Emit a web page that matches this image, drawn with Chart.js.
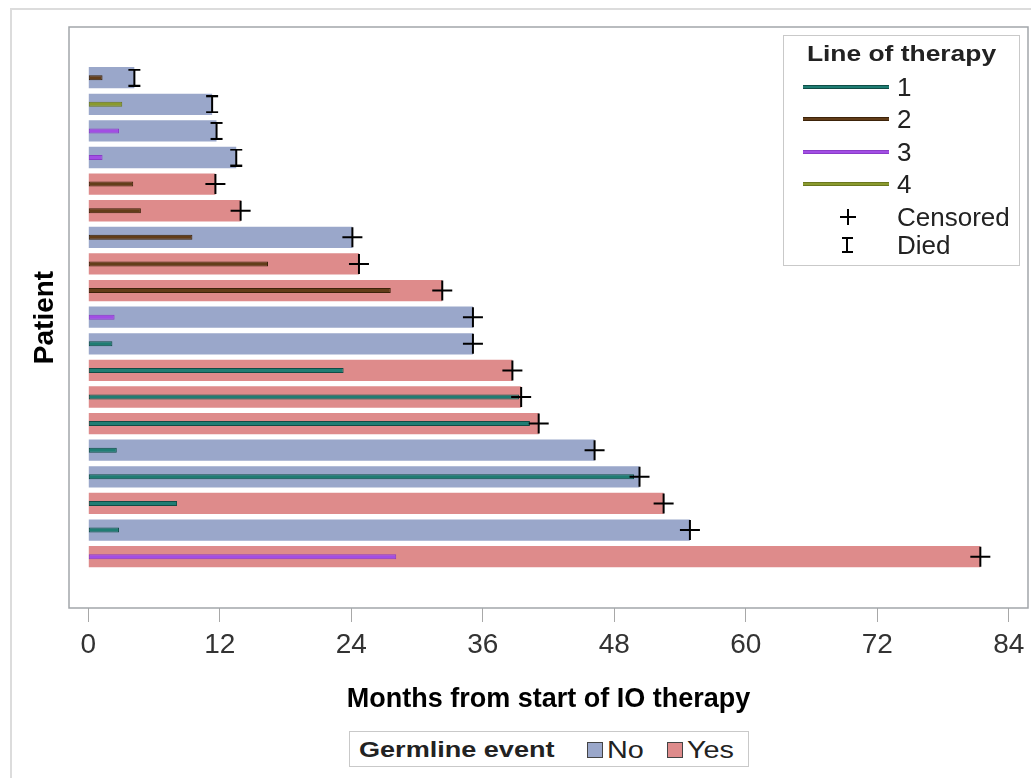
<!DOCTYPE html>
<html>
<head>
<meta charset="utf-8">
<script src="https://cdn.jsdelivr.net/npm/chart.js@4.4.1/dist/chart.umd.min.js"></script>
<style>
  html, body { margin: 0; padding: 0; background: #fff; }
  #wrap { position: relative; width: 1031px; height: 778px; overflow: hidden; font-family: 'Liberation Sans', Arial, sans-serif; color: #222; }
  #outer { position: absolute; left: 10px; top: 8px; width: 1100px; height: 900px; border: 2px solid #dcdcdc; box-sizing: border-box; }
  #chart { position: absolute; left: 0; top: 0; }
  .box { position: absolute; background: #fff; border: 1px solid #c9c9c9; box-sizing: border-box; }
  .abs { position: absolute; white-space: nowrap; }
  .ltitle { font-weight: bold; }
  .sample { position: absolute; height: 2px; }
  .swatch { position: absolute; width: 16px; height: 16px; border: 1px solid #444; box-sizing: border-box; }
  .bar { position: absolute; background: #000; }
</style>
</head>
<body>
<div id="wrap">
  <div id="outer"></div>
  <canvas id="chart" width="1031" height="778"></canvas>

  <div class="box" id="lotLegend" style="left:783px; top:35px; width:237px; height:231px;"></div>
  <div class="box" id="germLegend" style="left:349px; top:731px; width:400px; height:36px;"></div>
</div>
<script>
// one entry per patient, top row first
const germline = ['No','No','No','No','Yes','Yes','No','Yes','Yes','No',
                  'No','Yes','Yes','Yes','No','No','Yes','No','Yes'];
const months = [4.2, 11.3, 11.7, 13.5, 11.6, 13.9, 24.1, 24.7, 32.3, 35.1,
                35.1, 38.7, 39.5, 41.1, 46.2, 50.3, 52.5, 54.9, 81.4];
const outcome = ['Died','Died','Died','Died','Censored','Censored','Censored','Censored','Censored','Censored',
                 'Censored','Censored','Censored','Censored','Censored','Censored','Censored','Censored','Censored'];
const therapyLine = [2, 4, 3, 3, 2, 2, 2, 2, 2, 3, 1, 1, 1, 1, 1, 1, 1, 1, 3];
const therapyMonths = [1.3, 3.1, 2.8, 1.3, 4.1, 4.8, 9.5, 16.4, 27.6, 2.4,
                       2.2, 23.3, 39.3, 40.3, 2.6, 49.8, 8.1, 2.8, 28.1];
const xTicks = [0, 12, 24, 36, 48, 60, 72, 84];
const lineLabels = ['1', '2', '3', '4'];
const germLabels = ['No', 'Yes'];

const GERM_COLORS = { No: '#9aa7ca', Yes: '#de8b8b' };
const LINE_COLORS = { 1: '#1f7d73', 2: '#623d19', 3: '#a24ee4', 4: '#8a9a2e' };
const LINE_EDGES  = { 1: '#0f4d46', 2: '#3c230a', 3: '#8a3cc8', 4: '#6b781f' };

const rows = months.map((m, i) => i + 1);

// I-beam marker for deaths
function makeDiedMarker() {
  const c = document.createElement('canvas');
  c.width = 14; c.height = 18;
  const ctx = c.getContext('2d');
  ctx.strokeStyle = '#000';
  ctx.lineWidth = 2;
  ctx.beginPath();
  ctx.moveTo(1, 1); ctx.lineTo(13, 1);
  ctx.moveTo(7, 1); ctx.lineTo(7, 17);
  ctx.moveTo(1, 17); ctx.lineTo(13, 17);
  ctx.stroke();
  return c;
}

const framePlugin = {
  id: 'frame',
  afterDraw(chart) {
    const a = chart.chartArea;
    const ctx = chart.ctx;
    ctx.save();
    ctx.strokeStyle = '#a2a6aa';
    ctx.lineWidth = 1.5;
    ctx.strokeRect(a.left, a.top, a.right - a.left, a.bottom - a.top);
    ctx.restore();
  }
};

const pointsFor = kind => months
  .map((m, i) => ({ x: m, y: rows[i], kind: outcome[i] }))
  .filter(p => p.kind === kind);

new Chart(document.getElementById('chart'), {
  type: 'bar',
  data: {
    datasets: [
      {
        type: 'scatter',
        label: 'Died',
        data: pointsFor('Died'),
        pointStyle: makeDiedMarker(),
        pointRadius: 9,
        order: 0
      },
      {
        type: 'scatter',
        label: 'Censored',
        data: pointsFor('Censored'),
        pointStyle: 'cross',
        pointRadius: 10,
        pointBorderColor: '#000',
        pointBorderWidth: 2,
        order: 1
      },
      {
        type: 'bar',
        label: 'Line of therapy',
        indexAxis: 'y',
        data: therapyMonths.map((m, i) => ({ x: m, y: rows[i] })),
        backgroundColor: therapyLine.map(l => LINE_COLORS[l]),
        borderColor: therapyLine.map(l => LINE_EDGES[l]),
        borderWidth: 1,
        borderSkipped: false,
        grouped: false,
        barPercentage: 0.25,
        maxBarThickness: 5,
        order: 2
      },
      {
        type: 'bar',
        label: 'Germline event',
        indexAxis: 'y',
        data: months.map((m, i) => ({ x: m, y: rows[i] })),
        backgroundColor: germline.map(g => GERM_COLORS[g]),
        grouped: false,
        categoryPercentage: 1,
        barPercentage: 0.8,
        order: 3
      }
    ]
  },
  options: {
    responsive: false,
    animation: false,
    indexAxis: 'y',
    layout: { autoPadding: false, padding: { left: 0, top: 27, right: 3, bottom: 0 } },
    plugins: { legend: { display: false }, tooltip: { enabled: false } },
    scales: {
      x: {
        type: 'linear',
        position: 'bottom',
        offset: false,
        min: -1.76,
        max: 85.75,
        afterBuildTicks: s => { s.ticks = xTicks.map(v => ({ value: v })); },
        afterFit: s => { s.height = 170; },
        grid: { display: true, drawOnChartArea: false, drawTicks: true, tickLength: 14, color: '#a8a8a8' },
        border: { display: false },
        ticks: {
          padding: 6,
          color: '#333',
          maxRotation: 0,
          font: { family: "'Liberation Sans', Arial, sans-serif", size: 28 },
          callback: v => String(v)
        },
        title: {
          display: true,
          text: 'Months from start of IO therapy',
          color: '#000',
          font: { family: "'Liberation Sans', Arial, sans-serif", size: 27, weight: 'bold' },
          padding: { top: 0, bottom: 62 }
        }
      },
      y: {
        type: 'linear',
        position: 'left',
        offset: false,
        reverse: true,
        min: -0.905,
        max: 20.93,
        afterBuildTicks: s => { s.ticks = rows.map(v => ({ value: v })); },
        afterFit: s => { s.width = 69; },
        grid: { display: false },
        border: { display: false },
        ticks: { display: false },
        title: {
          display: true,
          text: 'Patient',
          color: '#000',
          font: { family: "'Liberation Sans', Arial, sans-serif", size: 28, weight: 'bold' },
          padding: { top: 28, bottom: 0 }
        }
      }
    }
  },
  plugins: [framePlugin]
});

// legends (HTML)
function el(parent, cls, style, text) {
  const d = document.createElement('div');
  d.className = cls;
  Object.assign(d.style, style);
  if (text !== undefined) d.textContent = text;
  parent.appendChild(d);
  return d;
}

const lot = document.getElementById('lotLegend');
el(lot, 'abs ltitle', { left: '0', width: '100%', top: '0', lineHeight: '35px', fontSize: '22px',
  textAlign: 'center', transform: 'scaleX(1.2)' }, 'Line of therapy');
const entryY = [50.5, 83.2, 115.7, 148.2, 180.5, 208.5];
lineLabels.forEach((lab, i) => {
  const y = entryY[i];
  el(lot, 'sample', { left: '19px', width: '86px', top: (y - 2) + 'px',
    background: LINE_COLORS[lab], borderTop: '1px solid ' + LINE_EDGES[lab], borderBottom: '1px solid ' + LINE_EDGES[lab] });
  el(lot, 'abs', { left: '113px', top: (y - 16) + 'px', lineHeight: '32px', fontSize: '26px' }, lab);
});
// censored plus
{
  const y = entryY[4];
  el(lot, 'bar', { left: '56px', width: '16px', top: (y - 1) + 'px', height: '2px' });
  el(lot, 'bar', { left: '63px', width: '2px', top: (y - 8) + 'px', height: '16px' });
  el(lot, 'abs', { left: '113px', top: (y - 16) + 'px', lineHeight: '32px', fontSize: '26px' }, 'Censored');
}
// died I-beam
{
  const y = entryY[5];
  el(lot, 'bar', { left: '58px', width: '11px', top: (y - 8) + 'px', height: '2px' });
  el(lot, 'bar', { left: '62px', width: '2px', top: (y - 8) + 'px', height: '16px' });
  el(lot, 'bar', { left: '58px', width: '11px', top: (y + 6) + 'px', height: '2px' });
  el(lot, 'abs', { left: '113px', top: (y - 16) + 'px', lineHeight: '32px', fontSize: '26px' }, 'Died');
}

const germ = document.getElementById('germLegend');
el(germ, 'abs ltitle', { left: '9px', top: '0', lineHeight: '35px', fontSize: '22px',
  transform: 'scaleX(1.23)', transformOrigin: 'left center' }, 'Germline event');
const swatchX = [237, 317];
germLabels.forEach((lab, i) => {
  el(germ, 'swatch', { left: swatchX[i] + 'px', top: '10px', background: GERM_COLORS[lab] });
  el(germ, 'abs', { left: (swatchX[i] + 20) + 'px', top: '0', lineHeight: '35px', fontSize: '24px',
    transform: 'scaleX(1.2)', transformOrigin: 'left center' }, lab);
});
</script>
</body>
</html>
